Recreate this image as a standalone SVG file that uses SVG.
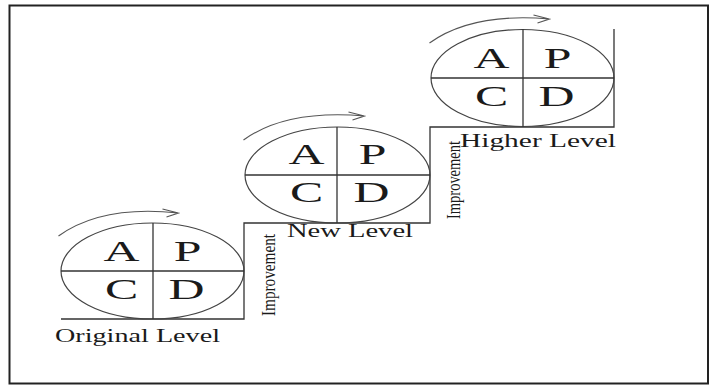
<svg xmlns="http://www.w3.org/2000/svg" width="712" height="386" viewBox="0 0 712 386">
<style>
.ln{fill:none;stroke:#333;stroke-width:1.3}
.el{fill:none;stroke:#444;stroke-width:1.2}
.ar{fill:none;stroke:#555;stroke-width:1.1}
.big{font-family:"Liberation Serif","Times New Roman",serif;font-size:29px;fill:#1a1a1a;text-anchor:middle}
.lbl{font-family:"Liberation Serif","Times New Roman",serif;font-size:18px;fill:#1a1a1a}
.imp{font-family:"Liberation Serif","Times New Roman",serif;font-size:19px;fill:#1a1a1a}
</style>
<rect x="0" y="0" width="712" height="386" fill="#fff"/>
<rect x="9.5" y="5.5" width="698.5" height="378" fill="none" stroke="#222" stroke-width="2"/>
<g id="connectors">
<polyline class="ln" points="61,319 244,319 244,223 430,223 430,127 614,127 614,29"/>
</g>
<g id="cycle-original">
<ellipse class="el" cx="152.5" cy="271" rx="91.5" ry="48"/>
<line class="ln" x1="61" y1="271" x2="244" y2="271"/>
<line class="ln" x1="153" y1="223" x2="153" y2="319"/>
<path class="ar" d="M58.5,236 C90.5,213 132.5,208 178.5,213 M162.5,209 L178.5,213 L166.5,217"/>
<text class="big" transform="translate(121.5,261) scale(1.72,1)">A</text>
<text class="big" transform="translate(187.5,261) scale(1.72,1)">P</text>
<text class="big" transform="translate(121.5,299) scale(1.72,1)">C</text>
<text class="big" transform="translate(186.5,299) scale(1.72,1)">D</text>
<text class="lbl" x="55" y="342" textLength="165" lengthAdjust="spacingAndGlyphs">Original Level</text>
</g>
<g id="improvement-1">
<text class="imp" transform="translate(275,316) rotate(-90)" textLength="82" lengthAdjust="spacingAndGlyphs">Improvement</text>
</g>
<g id="cycle-new">
<ellipse class="el" cx="337.5" cy="175" rx="92.5" ry="48"/>
<line class="ln" x1="245" y1="175" x2="430" y2="175"/>
<line class="ln" x1="337" y1="127" x2="337" y2="223"/>
<path class="ar" d="M243.5,140 C275.5,117 317.5,112 364.5,116 M348.5,112 L364.5,116 L352.5,120"/>
<text class="big" transform="translate(306.5,164) scale(1.72,1)">A</text>
<text class="big" transform="translate(372.5,164) scale(1.72,1)">P</text>
<text class="big" transform="translate(306.5,202) scale(1.72,1)">C</text>
<text class="big" transform="translate(371.5,202) scale(1.72,1)">D</text>
<text class="lbl" x="287" y="237" textLength="126" lengthAdjust="spacingAndGlyphs">New Level</text>
</g>
<g id="improvement-2">
<text class="imp" transform="translate(460,219) rotate(-90)" textLength="78" lengthAdjust="spacingAndGlyphs">Improvement</text>
</g>
<g id="cycle-higher">
<ellipse class="el" cx="522.5" cy="78" rx="91.5" ry="48.5"/>
<line class="ln" x1="431" y1="78" x2="614" y2="78"/>
<line class="ln" x1="523" y1="29" x2="523" y2="127"/>
<path class="ar" d="M429.5,43 C461.5,20 503.5,15 549.5,19 M533.5,15 L549.5,19 L537.5,23"/>
<text class="big" transform="translate(491.5,68) scale(1.72,1)">A</text>
<text class="big" transform="translate(557.5,68) scale(1.72,1)">P</text>
<text class="big" transform="translate(491.5,106) scale(1.72,1)">C</text>
<text class="big" transform="translate(556.5,106) scale(1.72,1)">D</text>
<text class="lbl" x="460" y="147" textLength="156" lengthAdjust="spacingAndGlyphs">Higher Level</text>
</g>
</svg>
